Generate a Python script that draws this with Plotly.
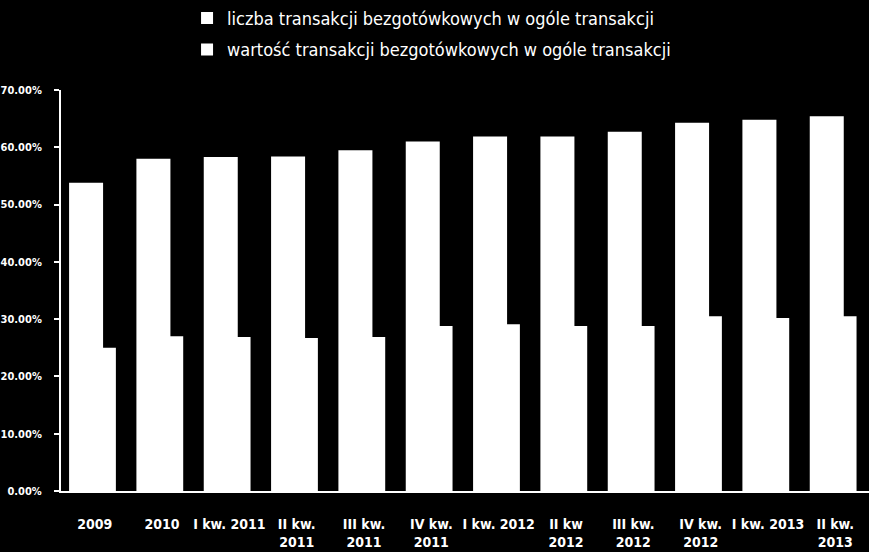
import plotly.graph_objects as go

# data
categories = ["2009", "2010", "I kw. 2011", "II kw.<br>2011", "III kw.<br>2011", "IV kw.<br>2011",
              "I kw. 2012", "II kw<br>2012", "III kw.<br>2012", "IV kw.<br>2012", "I kw. 2013", "II kw.<br>2013"]
liczba = [53.8, 58.0, 58.3, 58.4, 59.5, 61.0, 61.9, 61.9, 62.7, 64.3, 64.8, 65.4]
wartosc = [25.0, 27.0, 26.9, 26.7, 26.9, 28.8, 29.1, 28.8, 28.8, 30.5, 30.2, 30.5]
names = ["liczba transakcji bezgotówkowych w ogóle transakcji",
         "wartość transakcji bezgotówkowych w ogóle transakcji"]

font = "DejaVu Sans Condensed, Roboto, sans-serif"

fig = go.Figure()
fig.add_trace(go.Bar(x=categories, y=liczba, name=names[0], legendgroup="a",
                     marker=dict(color="white", line=dict(width=0)),
                     width=0.505, offset=-0.38))
fig.add_trace(go.Bar(x=categories, y=wartosc, name=names[1], legendgroup="b",
                     marker=dict(color="white", line=dict(width=0)),
                     width=0.505, offset=-0.19))

fig.update_layout(
    width=869, height=552,
    paper_bgcolor="black", plot_bgcolor="black",
    barmode="overlay",
    margin=dict(l=61, r=0, t=90, b=61, autoexpand=False),
    font=dict(family=font, color="white"),
    legend=dict(x=0.156, y=1.225, xanchor="left", yanchor="top",
                traceorder="grouped", tracegroupgap=5,
                font=dict(size=18, color="white"),
                itemwidth=30, bgcolor="rgba(0,0,0,0)"),
    showlegend=True,
)
fig.update_xaxes(showline=True, linecolor="white", linewidth=2, ticks="",
                 tickangle=0,
                 tickfont=dict(size=14, color="white", family=font, weight="bold"),
                 showgrid=False, ticklabelstandoff=19)
fig.update_yaxes(range=[0, 70], dtick=10, tickformat=".2f", ticksuffix="%",
                 showline=True, linecolor="white", linewidth=2,
                 ticks="outside", ticklen=5, tickcolor="white", tickwidth=2,
                 tickfont=dict(size=11, color="white", family=font, weight="bold"),
                 showgrid=False, zeroline=False, ticklabelstandoff=10)

fig.write_html("out.html", config={"displayModeBar": False},
               post_script="document.body.style.margin='0';document.body.style.overflow='hidden';")
